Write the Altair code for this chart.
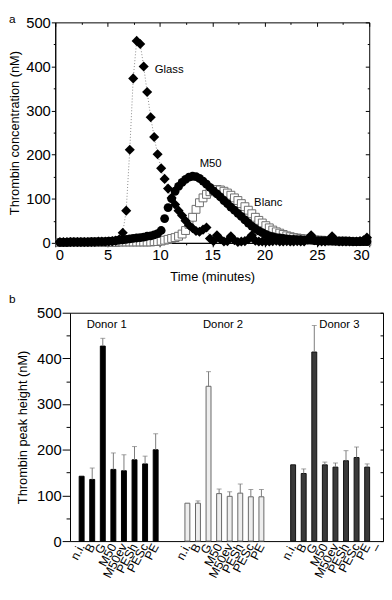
import altair as alt
import pandas as pd

FONT = "Liberation Sans"

# ---------------- panel a : thrombin generation curves ----------------
TIME_MIN = [0.45, 0.78, 1.12, 1.45, 1.78, 2.12, 2.45, 2.78, 3.12, 3.45,
            3.78, 4.12, 4.45, 4.78, 5.12, 5.45, 5.78, 6.12, 6.45, 6.78,
            7.12, 7.45, 7.78, 8.12, 8.45, 8.78, 9.12, 9.45, 9.78, 10.12,
            10.45, 10.78, 11.12, 11.45, 11.78, 12.12, 12.45, 12.78, 13.12, 13.45,
            13.78, 14.12, 14.45, 14.78, 15.12, 15.45, 15.78, 16.12, 16.45, 16.78,
            17.12, 17.45, 17.78, 18.12, 18.45, 18.78, 19.12, 19.45, 19.78, 20.12,
            20.45, 20.78, 21.12, 21.45, 21.78, 22.12, 22.45, 22.78, 23.12, 23.45,
            23.78, 24.12, 24.45, 24.78, 25.12, 25.45, 25.78, 26.12, 26.45, 26.78,
            27.12, 27.45, 27.78, 28.12, 28.45, 28.78, 29.12, 29.45, 29.78]

GLASS = [2, 2, 2, 2, 2, 2, 2, 2, 2, 2, 2, 3, 3, 3, 3, 4, 5,
         8, 23, 73, 211, 373, 458, 451, 400, 342, 285, 240, 201, 169,
         145, 123, 102, 87, 73, 62, 50, 40, 33, 27, 25, 30, 35, 10,
         4, 17, 8, 3, 4, 15, 6, 2, 3, 4, 8, 17, 5, 3,
         3, 3, 3, 4, 5, 3, 3, 4, 3, 3, 4, 3, 3, 8, 17, 6, 3, 3, 3, 6,
         15, 5, 3, 3, 3, 3, 3, 3, 4, 6, 12]

M50 = [1, 1, 1, 2, 2, 2, 2, 2, 2, 3, 3, 3, 3, 3, 4, 4, 5,
       6, 7, 8, 9, 10, 11, 12, 13, 15, 16, 18, 21,
       28, 55, 80, 100, 117, 128, 137, 144, 149, 151, 150, 146, 140, 133, 126,
       118, 111, 104, 96, 89, 81, 74, 67, 60, 52, 45, 38, 32, 27, 23,
       19, 16, 14, 12, 11, 10, 9, 8, 8, 7, 7, 6, 6, 6, 5, 5, 5, 5, 4, 4,
       4, 4, 4, 4, 4, 3, 3, 3, 3, 3]

BLANC = [1, 1, 1, 1, 1, 1, 1, 1, 1, 1, 1, 1, 1, 1, 1, 1, 1, 2, 2, 2, 2, 2, 2, 2, 2, 2, 2, 3,
         3, 4, 6, 8, 10, 12, 15, 20, 28, 42, 58, 76, 91, 102, 110, 116,
         119, 121, 120, 117, 113, 108, 102, 96, 89, 82, 74, 66, 58, 51, 45,
         39, 34, 29, 25, 22, 19, 16, 14, 12, 11, 10, 9, 8, 7, 7, 6, 6, 5, 5,
         5, 4, 4, 4, 4, 3, 3, 3, 3, 3, 3]

CURVE_LABELS = ["Glass", "M50", "Blanc"]
CURVE_LABEL_T = [9.5, 13.8, 19.0]
CURVE_LABEL_V = [393, 179, 91]

X_MAJOR = [0, 5, 10, 15, 20, 25, 30]
X_MINOR = [2.5, 7.5, 12.5, 17.5, 22.5, 27.5]
Y_MAJOR = [0, 100, 200, 300, 400, 500]
Y_MINOR = [50, 150, 250, 350, 450]

# ---------------- panel b : peak heights ----------------
TREATMENTS = ["n.i.", "B", "G", "M50", "M50ev", "PESh", "PESc", "PE"]
DONORS = ["Donor 1", "Donor 2", "Donor 3"]
PEAK = {
    "Donor 1": [142, 135, 427, 157, 154, 178, 169, 200],
    "Donor 2": [83, 83, 339, 104, 98, 105, 97, 97],
    "Donor 3": [167, 148, 414, 167, 162, 176, 183, 162],
}
ERR = {
    "Donor 1": [0, 25, 17, 36, 35, 29, 17, 35],
    "Donor 2": [0, 5, 32, 10, 10, 20, 16, 16],
    "Donor 3": [0, 10, 58, 6, 9, 22, 23, 7],
}
EXTRA_LABEL = "\u2013"
DONOR_ANCHOR = ["G", "M50", "M50ev"]
DONOR_LABEL_Y = 472
BAR_FILL = ["#000000", "#eeeeee", "#3a3a3a"]
BAR_STROKE = ["#000000", "#666666", "#111111"]

# ---------------- layout constants (pixels) ----------------
WA, HA = 319, 224          # panel a plot area
B_LEFT, B_RIGHT = 15, 333  # panel b frame inside its group
HB = 232

# ---------------- tables ----------------
curves = pd.concat([
    pd.DataFrame({"series": name, "t": TIME_MIN, "v": vals})
    for name, vals in [("Blanc", BLANC), ("Glass", GLASS), ("M50", M50)]
])
curve_labels = pd.DataFrame({"lbl": CURVE_LABELS, "t": CURVE_LABEL_T, "v": CURVE_LABEL_V})
origin_a = pd.DataFrame({"t": [0.0], "v": [0.0]})

xs = alt.Scale(domain=[0, 30], nice=False, zero=False)
ys = alt.Scale(domain=[0, 500], nice=False)


def ax(**kw):
    return alt.Axis(grid=False, **kw)


def inv_a(xaxis, yaxis):
    return alt.Chart(origin_a).mark_point(opacity=0).encode(
        x=alt.X("t:Q", scale=xs, axis=xaxis, title=None),
        y=alt.Y("v:Q", scale=ys, axis=yaxis, title=None),
    )


XA = alt.X("t:Q", scale=xs, axis=None)
YA = alt.Y("v:Q", scale=ys, axis=None)

base_a = alt.Chart(curves)
glass_line = base_a.transform_filter(alt.datum.series == "Glass").mark_line(
    color="#8a8a8a", strokeWidth=1, strokeDash=[1, 2]
).encode(
    x=alt.X("t:Q", scale=xs, title="Time (minutes)",
            axis=ax(values=X_MAJOR, tickSize=4, labelPadding=1, titlePadding=8,
                    orient="bottom", format="d")),
    y=alt.Y("v:Q", scale=ys, title="Thrombin concentration (nM)",
            axis=ax(values=Y_MAJOR, tickSize=4, labelPadding=1, titlePadding=4,
                    orient="left", format="d")),
)
blanc_pts = base_a.transform_filter(alt.datum.series == "Blanc").mark_point(
    shape="square", filled=True, fill="white", stroke="#6e6e6e", strokeWidth=1,
    size=64, opacity=1
).encode(x=XA, y=YA)
glass_pts = base_a.transform_filter(alt.datum.series == "Glass").mark_point(
    shape="diamond", filled=True, color="black", size=105, opacity=1
).encode(x=XA, y=YA)
m50_pts = base_a.transform_filter(alt.datum.series == "M50").mark_point(
    shape="circle", filled=True, color="black", size=80, opacity=1
).encode(x=XA, y=YA)
lbl_a = alt.Chart(curve_labels).mark_text(
    font=FONT, fontSize=11.5, align="left", baseline="middle", color="black"
).encode(x=XA, y=YA, text="lbl:N")
letter_a = alt.Chart(pd.DataFrame({"lbl": ["a"]})).mark_text(
    font=FONT, fontSize=12, align="left", baseline="top", color="black"
).encode(x=alt.value(-47), y=alt.value(-8), text="lbl:N")

minor_a = inv_a(ax(values=X_MINOR, tickSize=2, labels=False, domain=False, orient="bottom"),
                ax(values=Y_MINOR, tickSize=2, labels=False, domain=False, orient="left"))
mirror_a = inv_a(ax(values=X_MAJOR, tickSize=4, labels=False, domain=False, orient="top", offset=-4),
                 ax(values=Y_MAJOR, tickSize=4, labels=False, domain=False, orient="right", offset=-4))
mirror_minor_a = inv_a(ax(values=X_MINOR, tickSize=2, labels=False, domain=False, orient="top", offset=-2),
                       ax(values=Y_MINOR, tickSize=2, labels=False, domain=False, orient="right", offset=-2))

panel_a = alt.layer(
    glass_line, minor_a, mirror_a, mirror_minor_a,
    blanc_pts, glass_pts, m50_pts, lbl_a, letter_a
).resolve_axis(x="independent", y="independent").properties(
    width=WA, height=HA, view=alt.ViewBackground(stroke="black", strokeWidth=1))

# ---------------- panel b ----------------
rows = []
for di, d in enumerate(DONORS):
    for ti, t in enumerate(TREATMENTS):
        rows.append({"key": f"{di + 1}:{t}", "donor": d,
                     "peak": PEAK[d][ti], "err": ERR[d][ti],
                     "top": PEAK[d][ti] + ERR[d][ti]})
bars = pd.DataFrame(rows)
errs = bars[bars["err"] > 0]

domain_b = ([f"1:{t}" for t in TREATMENTS] + ["gapA", "gapB"] +
            [f"2:{t}" for t in TREATMENTS] + ["gapC", "gapD"] +
            [f"3:{t}" for t in TREATMENTS] + [f"3:{EXTRA_LABEL}"])

xb = alt.Scale(domain=domain_b, range=[B_LEFT, B_RIGHT],
               paddingInner=0, paddingOuter=0.3, align=1)
yb = alt.Scale(domain=[0, 500], nice=False)
color_fill = alt.Scale(domain=DONORS, range=BAR_FILL)
color_stroke = alt.Scale(domain=DONORS, range=BAR_STROKE)

label_expr = "indexof(datum.value, ':') > 0 ? split(datum.value, ':')[1] : ''"

XB = alt.X("key:N", scale=xb, axis=None)

bar_layer = alt.Chart(bars).mark_bar(size=5, strokeWidth=1).encode(
    x=alt.X("key:N", scale=xb, title=None, sort=domain_b,
            axis=ax(labelExpr=label_expr, labelAngle=-62, ticks=False,
                    labelFontSize=12.5, labelPadding=3, orient="bottom")),
    y=alt.Y("peak:Q", scale=yb, title="Thrombin peak height (nM)",
            axis=ax(values=Y_MAJOR, tickSize=8, labelPadding=1, titlePadding=7,
                    orient="left", format="d", offset=-B_LEFT)),
    fill=alt.Fill("donor:N", scale=color_fill, legend=None),
    stroke=alt.Stroke("donor:N", scale=color_stroke, legend=None),
)
err_rule = alt.Chart(errs).mark_rule(color="#7a7a7a", strokeWidth=1).encode(
    x=XB, y=alt.Y("peak:Q", scale=yb, axis=None), y2="top:Q")
err_cap = alt.Chart(errs).mark_tick(color="#7a7a7a", size=5, thickness=1).encode(
    x=XB, y=alt.Y("top:Q", scale=yb, axis=None))

donor_lbl = alt.Chart(pd.DataFrame({
    "key": [f"{i + 1}:{a}" for i, a in enumerate(DONOR_ANCHOR)],
    "lbl": DONORS, "v": [DONOR_LABEL_Y] * 3})).mark_text(
    font=FONT, fontSize=11.5, align="center", baseline="middle", dx=4, color="black"
).encode(x=XB, y=alt.Y("v:Q", scale=yb, axis=None), text="lbl:N")

origin_b = pd.DataFrame({"key": ["1:n.i."], "v": [0.0]})
# frame: top line and right line
frame_b = alt.Chart(origin_b).mark_point(opacity=0).encode(
    x=alt.X("key:N", scale=xb, title=None,
            axis=ax(labels=False, ticks=False, domain=True, orient="top")),
    y=alt.Y("v:Q", scale=yb, title=None,
            axis=ax(values=Y_MAJOR, labels=False, ticks=False, domain=True, orient="right")),
)
# inward ticks on the right, minor ticks on the left
ticks_b = alt.Chart(origin_b).mark_point(opacity=0).encode(
    x=XB,
    y=alt.Y("v:Q", scale=yb, title=None,
            axis=ax(values=Y_MAJOR + Y_MINOR, tickSize=3, labels=False, domain=False,
                    orient="right", offset=-3)),
)
minor_b = alt.Chart(origin_b).mark_point(opacity=0).encode(
    x=XB,
    y=alt.Y("v:Q", scale=yb, title=None,
            axis=ax(values=Y_MINOR, tickSize=4, labels=False, domain=False,
                    orient="left", offset=-B_LEFT)),
)
letter_b = alt.Chart(pd.DataFrame({"lbl": ["b"]})).mark_text(
    font=FONT, fontSize=12, align="left", baseline="top", color="black"
).encode(x=alt.value(-47), y=alt.value(-19), text="lbl:N")

panel_b = alt.layer(
    bar_layer, frame_b, ticks_b, minor_b, err_rule, err_cap, donor_lbl, letter_b
).resolve_axis(x="independent", y="independent").properties(
    width=B_RIGHT, height=HB, view=alt.ViewBackground(stroke="transparent"))

chart = alt.vconcat(panel_a, panel_b, spacing=8).properties(
    padding={"left": 0, "top": 0, "right": 0, "bottom": 0}
).configure_view(stroke="transparent").configure_axis(
    labelFont=FONT, titleFont=FONT, labelFontSize=15, titleFontSize=13,
    titleFontWeight="normal", labelColor="black", titleColor="black",
    domainColor="black", tickColor="black", domainWidth=1, tickWidth=1,
)

chart.save("out.html", embed_options={"renderer": "svg", "actions": False})
